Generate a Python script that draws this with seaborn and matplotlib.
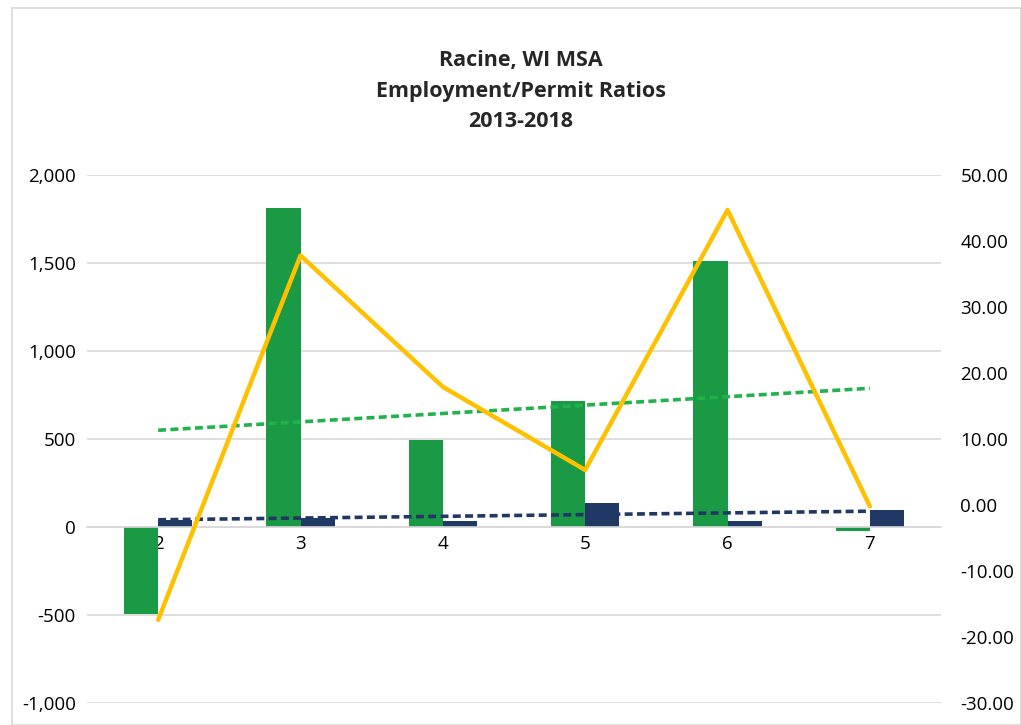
import matplotlib
matplotlib.use("Agg")
import matplotlib.pyplot as plt
import matplotlib.ticker as mticker
import numpy as np
import pandas as pd
import seaborn as sns

categories = ["2", "3", "4", "5", "6", "7"]
employment = [-495, 1812, 494, 716, 1511, -25]
permits = [40, 50, 35, 136, 35, 97]
ratio = [-17.4, 37.8, 17.9, 5.3, 44.7, -0.2]
title_lines = ["Racine, WI MSA", "Employment/Permit Ratios", "2013-2018"]

GREEN = "#1B9A45"
NAVY = "#203864"
YELLOW = "#FFC000"
GREEN_TREND = "#22B24C"
GRID = "#D9D9D9"

sns.set_theme(style="white")
plt.rcParams["font.family"] = ["Open Sans", "DejaVu Sans"]

df = pd.DataFrame({
    "cat": categories * 2,
    "value": employment + permits,
    "series": ["Employment"] * len(categories) + ["Permits"] * len(categories),
})

fig = plt.figure(figsize=(10.21, 7.25), dpi=100)
ax = fig.add_axes([87 / 1021, 1 - 703 / 725, 854 / 1021, 528 / 725])

ax.set_ylim(-1000, 2000)
ax.set_yticks(np.arange(-1000, 2001, 500))
ax.yaxis.grid(True, color=GRID, linewidth=1.2, zorder=0)
ax.set_axisbelow(True)

sns.barplot(data=df, x="cat", y="value", hue="series", order=categories,
            palette=[GREEN, NAVY], width=0.48, saturation=1, ax=ax,
            legend=False, zorder=2, linewidth=0, edgecolor="none")

pos = np.arange(len(categories))
sns.regplot(x=pos, y=np.array(employment, float), scatter=False, ci=None, ax=ax,
            line_kws=dict(color=GREEN_TREND, linestyle=(0, (2.2, 1.2)), linewidth=2.6, zorder=3))
sns.regplot(x=pos, y=np.array(permits, float), scatter=False, ci=None, ax=ax,
            line_kws=dict(color=NAVY, linestyle=(0, (2.2, 1.2)), linewidth=2.6, zorder=3))

ax.set_xlim(-0.5, len(categories) - 0.5)
ax.set_xlabel("")
ax.set_ylabel("")
ax.yaxis.set_major_formatter(mticker.FuncFormatter(lambda v, p: f"{v:,.0f}".replace("\u2212", "-")))
for s in ["top", "right", "left"]:
    ax.spines[s].set_visible(False)
ax.spines["bottom"].set_position(("data", 0))
ax.spines["bottom"].set_color(GRID)
ax.spines["bottom"].set_linewidth(1.2)
ax.tick_params(axis="x", length=0, pad=6, labelsize=13.5, labelcolor="black")
ax.tick_params(axis="y", length=0, pad=8, labelsize=13.5, labelcolor="black")

ax2 = ax.twinx()
sns.lineplot(x=pos, y=ratio, color=YELLOW, linewidth=3.2, ax=ax2)
ax2.set_ylim(-30, 50)
ax2.set_yticks(np.arange(-30, 51, 10))
ax2.yaxis.set_major_formatter(mticker.FuncFormatter(lambda v, p: f"{v:.2f}".replace("\u2212", "-")))
for s in ["top", "right", "left", "bottom"]:
    ax2.spines[s].set_visible(False)
ax2.tick_params(axis="y", length=0, pad=14, labelsize=13.5, labelcolor="black")
ax2.grid(False)

fig.text(0.51, 1 - 91 / 725, "\n".join(title_lines), ha="center", va="center",
         fontsize=15.5, fontweight="bold", linespacing=1.58)

border = plt.Rectangle((12 / 1021, 0), 1 - 12 / 1021, 1 - 8 / 725, transform=fig.transFigure,
                       fill=False, edgecolor=GRID, linewidth=1.2)
fig.add_artist(border)

fig.savefig("out.png", dpi=100)
